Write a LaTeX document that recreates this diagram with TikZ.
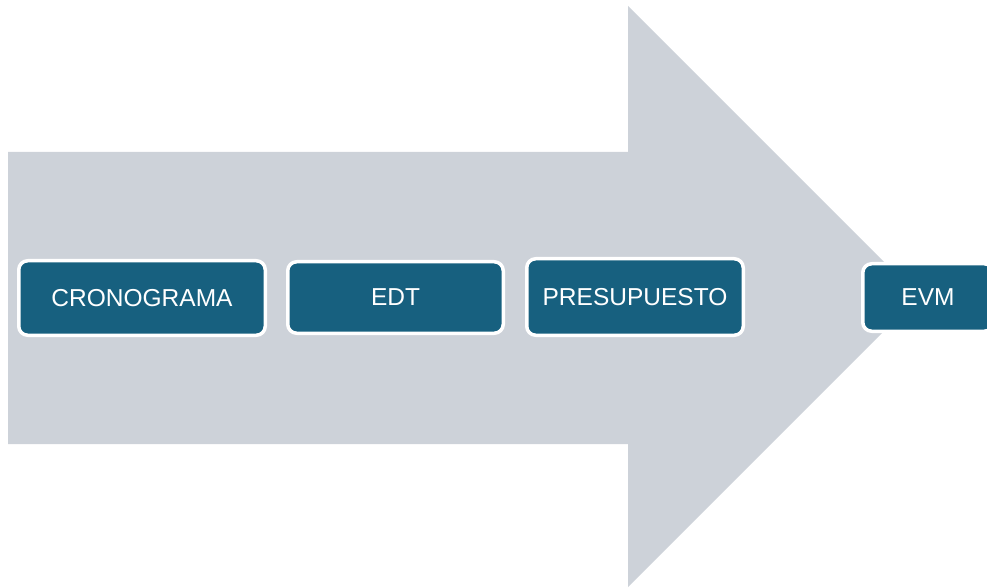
\documentclass[tikz,border=0pt]{standalone}
\usepackage{fontspec}
\setmainfont{Liberation Sans}
\definecolor{arrowgray}{HTML}{CDD2D9}
\definecolor{boxteal}{HTML}{17607F}
\begin{document}
\begin{tikzpicture}[x=1pt,y=1pt,
  stagebox/.style={draw=white, line width=3.5pt, fill=boxteal, rounded corners=9pt,
    text=white, font=\fontsize{24.5}{28}\selectfont, inner sep=0pt}]
\useasboundingbox (0,0) rectangle (987,587);
\clip (0,0) rectangle (987,587);
\fill[arrowgray] (8,435) -- (628,435) -- (628,581) -- (918.5,290.5) -- (628,0) -- (628,143) -- (8,143) -- cycle;
\node[stagebox, minimum width=246.5pt, minimum height=74.5pt] (crono) at (142,289) {CRONOGRAMA};
\node[stagebox, minimum width=215.5pt, minimum height=71.5pt] (edt) at (395.5,289.5) {EDT};
\node[stagebox, minimum width=216.5pt, minimum height=76.5pt] (presu) at (635,290) {PRESUPUESTO};
\node[stagebox, minimum width=130.5pt, minimum height=67.5pt] (evm) at (928,289.5) {EVM};
\end{tikzpicture}
\end{document}
